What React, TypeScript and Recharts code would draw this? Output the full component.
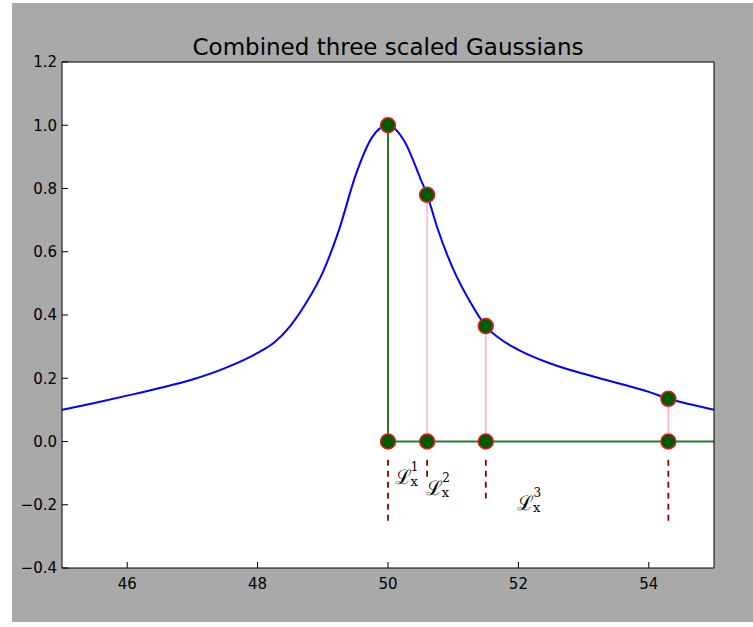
import {
  ComposedChart,
  Line,
  Scatter,
  XAxis,
  YAxis,
  CartesianGrid,
  ReferenceLine,
  ReferenceDot,
} from 'recharts';

// blue curve
const curveX = [
  45, 45.5, 46, 46.5, 47, 47.5, 48, 48.25, 48.5, 48.75, 49, 49.25, 49.5, 49.75, 50,
  50.25, 50.5, 50.6, 50.75, 51, 51.25, 51.5, 51.75, 52, 52.5, 53, 53.5, 54, 54.3, 54.65, 55,
];
const curveY = [
  0.1, 0.122, 0.145, 0.169, 0.196, 0.232, 0.28, 0.312, 0.365, 0.44, 0.535, 0.67, 0.84, 0.96, 1.0,
  0.95, 0.83, 0.78, 0.68, 0.545, 0.445, 0.365, 0.32, 0.29, 0.246, 0.214, 0.186, 0.157, 0.135, 0.117, 0.1,
];

// sample points (green dots) and the dashed drop lines under them
const markerX = [50, 50.6, 51.5, 54.3];
const markerY = [1.0, 0.78, 0.365, 0.135];
const dashTop = -0.058;
const dashBottom = [-0.255, -0.115, -0.18, -0.255];

// L_x labels
const labelX = [50.1, 50.58, 51.98];
const labelY = [-0.134, -0.17, -0.217];
const labelSup = ['1', '2', '3'];

const xTicks = [46, 48, 50, 52, 54];
const yTicks = [-0.4, -0.2, 0, 0.2, 0.4, 0.6, 0.8, 1.0, 1.2];

const curve = curveX.map((x, i) => ({ x, y: curveY[i] }));
const dots = [
  ...markerX.map((x, i) => ({ x, y: markerY[i] })),
  ...markerX.map((x) => ({ x, y: 0 })),
];

const tickFont = { fontFamily: 'DejaVu Sans', fontSize: 15, fill: '#000' };

const fmtY = (v: number) => (v < 0 ? '\u2212' + Math.abs(v).toFixed(1) : v.toFixed(1));

const Dot = (props: any) => {
  const { cx, cy } = props;
  return <circle cx={cx} cy={cy} r={7.5} fill="#005a00" stroke="#e02020" strokeWidth={1.5} />;
};

// one text per label so sub and superscript sit in the same run
const LxLabel = (sup: string) => (props: any) => {
  const { cx, cy } = props;
  return (
    <text x={cx} y={cy} fontFamily="DejaVu Serif" fill="#000">
      <tspan fontSize={20}>ℒ</tspan>
      <tspan fontSize={13} dx={-1} dy={2}>
        x
      </tspan>
      <tspan fontSize={12} dx={-7} dy={-15}>
        {sup}
      </tspan>
    </text>
  );
};

export default function App() {
  return (
    <div
      style={{
        position: 'absolute',
        left: 0,
        top: 0,
        width: 753,
        height: 627,
        background: '#fff',
      }}
    >
      <div
        style={{
          position: 'absolute',
          left: 12,
          top: 3,
          width: 741,
          height: 619,
          background: '#a9a9a9',
        }}
      />
      <div
        style={{
          position: 'absolute',
          left: 62,
          top: 36,
          width: 652,
          textAlign: 'center',
          fontFamily: 'DejaVu Sans',
          fontSize: 23,
          lineHeight: '23px',
          color: '#000',
        }}
      >
        Combined three scaled Gaussians
      </div>
      <div style={{ position: 'absolute', left: 0, top: 0 }}>
        <ComposedChart
          width={753}
          height={627}
          data={curve}
          margin={{ top: 52, right: 29, bottom: 29, left: 22 }}
        >
          <CartesianGrid fill="#fff" horizontal={false} vertical={false} />
          <XAxis
            dataKey="x"
            type="number"
            domain={[45, 55]}
            ticks={xTicks}
            interval={0}
            allowDataOverflow
            height={30}
            tickSize={-6}
            tickMargin={16}
            tick={tickFont}
            axisLine={{ stroke: '#000' }}
            tickLine={{ stroke: '#000' }}
          />
          <XAxis
            xAxisId="top"
            orientation="top"
            type="number"
            domain={[45, 55]}
            ticks={xTicks}
            interval={0}
            height={10}
            tickSize={-6}
            tick={false}
            axisLine={{ stroke: '#000' }}
            tickLine={{ stroke: '#000' }}
          />
          <YAxis
            type="number"
            domain={[-0.4, 1.2]}
            ticks={yTicks}
            interval={0}
            allowDataOverflow
            width={40}
            tickSize={-6}
            tickMargin={11}
            tick={tickFont}
            tickFormatter={fmtY}
            axisLine={{ stroke: '#000' }}
            tickLine={{ stroke: '#000' }}
          />
          <YAxis
            yAxisId="right"
            orientation="right"
            type="number"
            domain={[-0.4, 1.2]}
            ticks={yTicks}
            interval={0}
            width={10}
            tickSize={-6}
            tick={false}
            axisLine={{ stroke: '#000' }}
            tickLine={{ stroke: '#000' }}
          />
          <Line
            type="monotone"
            dataKey="y"
            stroke="#0000ff"
            strokeWidth={2}
            dot={false}
            isAnimationActive={false}
          />
          <ReferenceLine
            segment={[
              { x: markerX[0], y: 0 },
              { x: markerX[0], y: markerY[0] },
            ]}
            stroke="#2a7a2a"
            strokeWidth={2}
          />
          <ReferenceLine
            segment={[
              { x: markerX[0], y: 0 },
              { x: 55, y: 0 },
            ]}
            stroke="#2a7a2a"
            strokeWidth={2}
          />
          {markerX.slice(1).map((x, i) => (
            <ReferenceLine
              key={'p' + x}
              segment={[
                { x, y: 0 },
                { x, y: markerY[i + 1] },
              ]}
              stroke="#ffb0bc"
              strokeWidth={1.5}
            />
          ))}
          <Scatter
            data={dots}
            dataKey="y"
            shape={Dot}
            isAnimationActive={false}
          />
          {markerX.map((x, i) => (
            <ReferenceLine
              key={'d' + x}
              segment={[
                { x, y: dashTop },
                { x, y: dashBottom[i] },
              ]}
              stroke="#8b0000"
              strokeWidth={1.8}
              strokeDasharray="6 5"
            />
          ))}
          {labelX.map((x, i) => (
            <ReferenceDot
              key={'l' + i}
              x={x}
              y={labelY[i]}
              r={0}
              shape={LxLabel(labelSup[i])}
            />
          ))}
        </ComposedChart>
      </div>
    </div>
  );
}
